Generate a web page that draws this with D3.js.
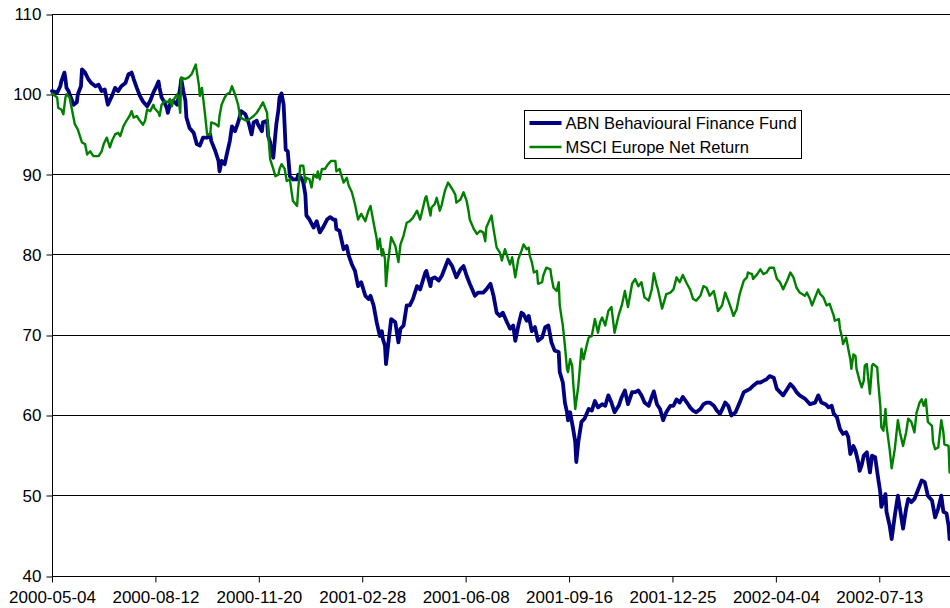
<!DOCTYPE html>
<html>
<head>
<meta charset="utf-8">
<script src="https://cdn.jsdelivr.net/npm/d3@7"></script>
<style>
  html, body { margin: 0; padding: 0; background: #fff; }
  svg { display: block; font-family: "Liberation Sans", Arial, sans-serif; }
</style>
</head>
<body>
<svg id="chart" width="950" height="608"></svg>
<script>
// ---- data ----
const startDate = "2000-05-04";
const lastDay = 868.4; // days after start shown at right edge
const xTickLabels = ["2000-05-04","2000-08-12","2000-11-20","2001-02-28","2001-06-08","2001-09-16","2001-12-25","2002-04-04","2002-07-13"];
const yTicks = [40,50,60,70,80,90,100,110];
const seriesNames = ["ABN Behavioural Finance Fund","MSCI Europe Net Return"];
const seriesColors = ["#000080","#008000"];

// [days after start, index value]
const abnPoints = [[0,100.4],[5,100.2],[8,101.0],[9,101.6],[12,102.7],[13,101.9],[14,100.8],[16,100.4],[17,100.0],[21,98.7],[24,99.0],[25,100.0],[28,101.0],[29,103.1],[32,102.7],[35,101.9],[38,101.4],[42,101.0],[45,101.2],[48,100.4],[51,100.6],[54,98.7],[58,99.8],[61,100.8],[64,100.4],[67,101.0],[71,101.4],[74,102.5],[77,102.7],[79,101.9],[82,100.8],[85,99.8],[88,99.1],[92,98.5],[95,99.2],[98,100.2],[101,101.0],[103,101.6],[104,100.8],[106,99.6],[108,99.2],[111,98.3],[112,97.7],[114,98.7],[117,99.2],[121,98.7],[124,100.8],[125,101.9],[127,100.4],[129,99.2],[130,97.1],[133,95.8],[137,95.2],[140,93.8],[143,93.6],[146,94.6],[150,94.6],[153,95.0],[154,94.2],[158,92.9],[161,91.7],[162,90.4],[164,91.7],[167,91.3],[169,92.5],[172,94.2],[174,96.0],[177,95.4],[180,96.5],[183,97.9],[187,97.5],[190,96.5],[193,95.0],[195,96.5],[198,96.7],[199,96.3],[203,95.4],[204,96.5],[208,96.7],[209,94.8],[211,94.0],[212,92.9],[214,92.1],[216,95.0],[217,96.3],[219,98.1],[220,99.6],[222,100.1],[224,98.7],[225,96.0],[226,93.1],[228,92.9],[230,89.8],[233,89.4],[237,89.4],[238,90.0],[241,89.6],[243,89.0],[245,87.5],[246,84.9],[249,84.4],[253,83.4],[256,84.2],[259,82.8],[262,83.4],[266,84.4],[269,84.7],[272,84.4],[274,84.4],[275,83.2],[278,83.0],[282,80.7],[285,81.1],[287,79.9],[290,78.8],[293,78.0],[296,76.1],[299,76.6],[303,74.9],[306,74.5],[308,74.9],[311,73.7],[314,71.6],[317,69.9],[319,70.5],[320,69.5],[322,68.7],[323,66.4],[325,68.7],[328,72.0],[332,71.6],[335,69.1],[337,70.8],[340,71.2],[343,73.7],[346,73.7],[349,74.5],[353,76.1],[356,75.7],[361,77.8],[362,78.0],[366,76.1],[367,77.0],[370,77.2],[374,76.8],[377,77.4],[380,78.4],[383,79.4],[387,78.6],[391,77.2],[395,78.2],[398,78.6],[401,77.4],[404,76.4],[409,74.9],[412,75.3],[417,75.3],[420,75.7],[424,76.4],[427,74.9],[430,72.8],[433,72.4],[436,72.8],[440,71.6],[443,70.8],[446,71.2],[448,69.3],[451,71.2],[454,72.8],[456,72.6],[459,71.8],[461,72.4],[464,70.5],[467,71.0],[470,69.3],[474,69.7],[477,71.0],[480,71.2],[483,69.1],[486,68.1],[490,67.9],[491,65.4],[494,64.1],[496,61.6],[498,60.4],[499,59.4],[501,60.4],[504,58.3],[506,56.7],[507,54.2],[509,56.7],[512,59.2],[515,59.6],[519,60.8],[522,60.6],[525,61.8],[528,61.0],[532,61.4],[535,61.2],[538,62.5],[541,61.6],[544,60.4],[548,61.2],[551,62.3],[554,63.1],[557,61.4],[561,62.9],[564,62.9],[567,63.1],[570,62.5],[573,61.6],[577,61.2],[580,62.3],[582,63.0],[585,61.4],[588,60.8],[591,59.4],[594,60.4],[598,61.2],[601,61.2],[604,62.0],[607,61.6],[610,62.3],[614,61.6],[617,61.0],[620,60.6],[623,60.4],[627,60.8],[630,61.4],[633,61.6],[636,61.6],[640,61.2],[643,60.6],[646,60.2],[649,61.0],[651,61.6],[654,61.2],[657,60.0],[661,60.4],[665,61.6],[669,62.9],[672,63.1],[675,63.3],[678,63.7],[682,64.1],[685,64.1],[688,64.3],[691,64.5],[694,64.9],[698,64.7],[701,63.3],[704,62.9],[707,62.5],[711,63.3],[714,63.9],[717,63.5],[720,62.9],[723,62.5],[728,62.1],[733,61.4],[738,61.6],[741,62.5],[744,61.6],[748,61.4],[751,61.0],[754,61.2],[756,60.2],[759,59.8],[762,58.3],[765,57.7],[768,57.9],[770,57.3],[772,55.2],[775,56.2],[777,55.6],[780,54.0],[781,53.1],[783,53.8],[785,55.0],[788,55.4],[791,52.9],[793,55.0],[796,54.8],[799,52.1],[801,50.4],[802,48.6],[806,50.2],[807,48.0],[810,46.3],[812,44.6],[815,47.5],[818,50.0],[820,48.4],[823,45.9],[826,48.4],[828,49.6],[831,49.2],[834,49.6],[838,50.9],[841,51.9],[844,51.7],[847,50.0],[851,49.4],[854,47.3],[857,48.4],[860,50.0],[862,48.0],[865,47.8],[867,46.3],[868,44.6]];

const msciPoints = [[0,100.1],[5,99.6],[6,98.3],[9,98.1],[11,97.5],[13,99.6],[14,100.0],[17,99.6],[19,98.3],[22,96.3],[25,95.6],[27,94.8],[29,94.0],[32,93.8],[34,92.5],[37,92.9],[40,92.3],[45,92.3],[48,92.9],[50,93.8],[53,94.6],[56,93.4],[58,94.2],[61,95.0],[64,95.2],[66,94.8],[69,96.0],[72,96.7],[75,97.3],[77,97.9],[79,97.1],[82,97.3],[85,96.7],[88,96.2],[90,96.7],[92,98.1],[95,97.9],[98,98.7],[99,98.3],[103,97.7],[104,97.3],[106,98.7],[109,99.2],[112,99.0],[114,99.4],[116,98.5],[117,99.2],[121,100.0],[122,99.8],[124,97.7],[125,102.1],[129,101.9],[132,102.1],[135,102.5],[137,103.1],[139,103.7],[142,101.2],[143,99.8],[145,100.8],[148,97.5],[150,95.0],[153,95.0],[154,96.5],[158,96.3],[161,96.0],[162,97.3],[164,98.7],[167,99.6],[169,100.0],[172,100.2],[174,101.0],[177,100.0],[180,98.7],[182,97.1],[185,96.9],[188,96.7],[191,96.9],[195,97.3],[198,97.7],[201,98.3],[204,99.0],[208,97.7],[209,95.2],[211,91.9],[214,90.7],[216,89.8],[219,90.0],[220,90.7],[222,91.3],[225,90.7],[227,89.2],[230,89.4],[233,86.7],[237,86.1],[238,88.0],[240,91.1],[243,91.1],[245,89.0],[246,89.6],[249,89.4],[251,88.4],[253,90.0],[256,89.6],[257,90.4],[259,89.4],[261,90.7],[264,90.7],[267,91.3],[270,91.7],[274,91.7],[275,90.4],[278,90.7],[282,89.0],[285,89.6],[287,88.6],[290,87.8],[293,86.3],[296,84.4],[299,85.1],[303,84.2],[306,85.5],[308,86.1],[311,84.0],[314,82.0],[315,80.7],[317,82.0],[319,79.9],[320,80.7],[322,79.5],[323,76.1],[325,79.1],[328,82.2],[332,81.1],[335,79.1],[337,81.3],[340,82.4],[343,84.0],[346,84.2],[349,84.6],[353,85.5],[356,84.4],[361,87.1],[362,87.3],[366,84.9],[367,85.9],[370,86.3],[372,87.1],[374,86.1],[375,85.5],[377,86.3],[378,86.9],[380,88.0],[383,89.0],[387,88.2],[390,87.5],[391,86.5],[395,86.9],[398,87.8],[401,86.7],[403,85.3],[404,84.4],[408,83.2],[411,82.6],[414,83.0],[417,82.8],[419,81.7],[420,83.4],[422,84.0],[425,84.9],[427,83.2],[430,80.9],[433,80.3],[435,79.3],[438,80.7],[441,79.5],[443,78.8],[445,79.7],[448,77.2],[451,79.5],[454,80.5],[456,81.3],[459,80.7],[461,80.9],[462,79.9],[464,79.1],[466,77.8],[469,78.0],[470,76.4],[474,76.6],[475,77.4],[478,78.4],[482,78.2],[483,77.2],[485,75.9],[488,75.5],[490,76.6],[491,73.7],[493,72.0],[494,71.2],[496,68.7],[498,65.8],[499,65.4],[501,67.0],[503,66.2],[504,64.1],[506,60.8],[509,63.7],[512,68.3],[514,67.0],[517,68.7],[519,69.7],[522,69.9],[525,72.0],[528,70.3],[530,71.6],[532,72.2],[535,71.2],[538,73.0],[541,73.5],[543,71.4],[544,70.3],[548,72.5],[551,73.7],[554,75.5],[557,73.5],[561,76.4],[564,77.0],[567,76.1],[570,76.6],[573,74.7],[577,74.3],[580,75.7],[582,77.7],[585,76.1],[586,75.7],[590,73.3],[594,75.1],[598,75.3],[601,75.7],[604,77.2],[607,76.6],[610,77.5],[614,76.4],[617,75.7],[620,74.5],[623,74.3],[627,74.9],[630,76.1],[633,75.9],[636,74.9],[640,75.5],[643,73.7],[644,73.0],[648,73.7],[651,75.3],[654,74.3],[657,73.2],[659,72.4],[662,73.2],[665,75.1],[669,76.8],[672,77.2],[673,77.8],[677,77.6],[678,77.0],[682,77.6],[685,78.2],[688,77.6],[691,77.8],[694,78.4],[698,78.4],[701,77.0],[704,76.6],[707,75.7],[711,76.8],[714,77.8],[717,77.2],[720,75.9],[723,75.3],[728,74.9],[730,75.3],[733,74.5],[735,73.7],[738,74.7],[741,75.7],[743,75.1],[746,74.7],[749,73.7],[752,73.9],[756,72.4],[757,71.8],[761,72.0],[762,70.8],[764,69.7],[765,68.9],[768,69.7],[770,68.3],[772,67.0],[773,65.8],[775,67.6],[777,67.4],[778,65.8],[781,64.3],[783,63.5],[785,64.3],[786,66.2],[788,66.4],[789,65.0],[791,62.7],[793,66.2],[794,66.4],[798,66.0],[799,64.1],[801,61.2],[802,58.5],[804,58.1],[806,60.8],[807,58.7],[810,55.8],[812,53.4],[815,55.8],[818,59.4],[820,57.9],[823,56.2],[826,57.9],[828,59.6],[831,59.2],[834,57.9],[836,60.3],[839,61.6],[841,62.0],[843,61.2],[845,62.0],[847,59.2],[851,58.7],[852,56.7],[854,55.8],[857,56.0],[860,59.4],[862,57.9],[863,56.4],[867,56.2],[868,52.9]];

// ---- layout ----
const plot = { left: 52, right: 950, top: 14, bottom: 576 };
const parse = d3.utcParse("%Y-%m-%d");
const fmt = d3.utcFormat("%Y-%m-%d");
const t0 = parse(startDate);
const DAY = 86400000;
const toDate = d => new Date(t0.getTime() + d * DAY);

const x = d3.scaleUtc().domain([t0, toDate(lastDay)]).range([plot.left, plot.right]);
const y = d3.scaleLinear().domain([40, 110]).range([plot.bottom, plot.top]);
const crisp = v => Math.floor(v) + 0.5;

const svg = d3.select("#chart");
svg.append("rect").attr("width", 950).attr("height", 608).attr("fill", "#fff");

// gridlines
svg.append("g").selectAll("line").data(yTicks.filter(v => v > 40)).join("line")
  .attr("x1", plot.left).attr("x2", plot.right)
  .attr("y1", d => crisp(y(d))).attr("y2", d => crisp(y(d)))
  .attr("stroke", "#000").attr("stroke-width", 1);

// y axis
const yAxis = d3.axisLeft(y).tickValues(yTicks).tickSize(6).tickPadding(5).tickFormat(d3.format("d"));
const gy = svg.append("g").attr("transform", `translate(${crisp(plot.left)},0)`).call(yAxis);
gy.select(".domain").attr("stroke", "#000").attr("d", `M0,${plot.top}V${plot.bottom}`);
gy.selectAll(".tick line").attr("stroke", "#000").attr("transform", function(d){ return `translate(0,${crisp(y(d)) - y(d)})`; });
gy.selectAll(".tick text").attr("font-size", 17).attr("fill", "#000")
  .attr("font-family", "'Liberation Sans', Arial, sans-serif");

// x axis
const xTickDates = xTickLabels.map(parse);
const xAxis = d3.axisBottom(x).tickValues(xTickDates).tickSize(6).tickPadding(8).tickFormat(fmt);
const gx = svg.append("g").attr("transform", `translate(0,${crisp(plot.bottom)})`).call(xAxis);
gx.select(".domain").attr("stroke", "#000").attr("d", `M${plot.left},0H${plot.right}`);
gx.selectAll(".tick line").attr("stroke", "#000");
gx.selectAll(".tick text").attr("font-size", 17).attr("fill", "#000")
  .attr("font-family", "'Liberation Sans', Arial, sans-serif");

// lines
const line = d3.line().x(d => x(toDate(d[0]))).y(d => y(d[1]));
svg.append("path").datum(abnPoints).attr("d", line)
  .attr("fill", "none").attr("stroke", seriesColors[0]).attr("stroke-width", 3.8)
  .attr("stroke-linejoin", "round").attr("stroke-linecap", "round");
svg.append("path").datum(msciPoints).attr("d", line)
  .attr("fill", "none").attr("stroke", seriesColors[1]).attr("stroke-width", 2.4)
  .attr("stroke-linejoin", "round").attr("stroke-linecap", "round");

// legend
const lg = svg.append("g").attr("transform", "translate(524.5,110.5)");
lg.append("rect").attr("width", 277).attr("height", 48).attr("fill", "#fff").attr("stroke", "#000").attr("stroke-width", 1);
seriesNames.forEach((name, i) => {
  const yy = 12.5 + i * 24;
  lg.append("line").attr("x1", 5).attr("x2", 37).attr("y1", yy).attr("y2", yy)
    .attr("stroke", seriesColors[i]).attr("stroke-width", i === 0 ? 3.8 : 2.4);
  lg.append("text").attr("x", 41).attr("y", yy).attr("dy", "0.35em")
    .attr("font-size", 16.5).attr("fill", "#000").text(name);
});
</script>
</body>
</html>
